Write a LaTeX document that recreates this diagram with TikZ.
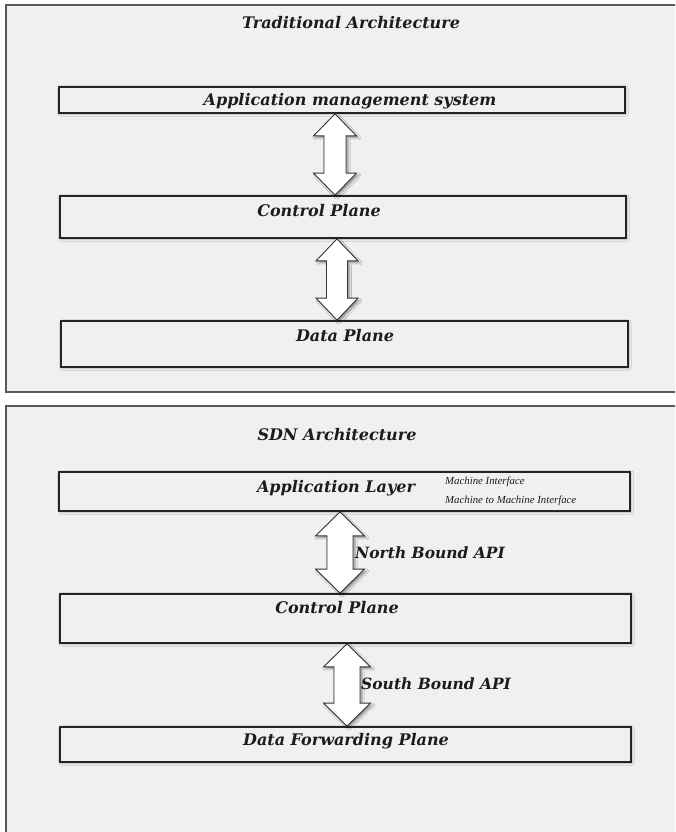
\documentclass[tikz,border=0pt]{standalone}
\usepackage{fontspec}
\setmainfont{DejaVu Serif}
\newfontfamily\noteface{Liberation Serif}
\usetikzlibrary{calc,shadows.blur}
\definecolor{panelgray}{HTML}{F0F0F0}
\definecolor{edgegray}{HTML}{242424}
\definecolor{inkgray}{HTML}{1C1C1C}
\tikzset{
  panel/.style={draw=black!65, line width=1.1pt, fill=panelgray},
  layer/.style={draw=edgegray, line width=1.8pt, fill=panelgray, inner sep=0pt,
    blur shadow={shadow xshift=1pt, shadow yshift=-1pt, shadow blur steps=4, shadow opacity=25}},
  heading/.style={font=\fontsize{16}{18}\selectfont\bfseries\itshape, text=inkgray, inner sep=0pt},
  apilbl/.style={font=\fontsize{15.5}{18}\selectfont\bfseries\itshape, text=inkgray, inner sep=0pt, anchor=west},
  note/.style={font=\noteface\fontsize{10.8}{12}\selectfont\itshape, text=inkgray, inner sep=0pt, anchor=west},
  blockarrow/.style={fill=white, draw=black!80, line width=0.9pt, line join=miter,
    blur shadow={shadow xshift=2pt, shadow yshift=-2pt, shadow blur steps=5, shadow opacity=40}},
}
% double-headed block arrow between the lower side of #2 and the upper side of #3 at x = #1
% #4 head half-width, #5 shaft half-width, #6 head length (all in pt)
\newcommand\layerlink[6]{%
  \path[blockarrow] let \p1=(#1,0 |- #2.south), \p2=(#1,0 |- #3.north) in
    (\x1,\y1) -- (\x1+#4pt,\y1-#6pt) -- (\x1+#5pt,\y1-#6pt) -- (\x1+#5pt,\y2+#6pt)
    -- (\x1+#4pt,\y2+#6pt) -- (\x1,\y2) -- (\x1-#4pt,\y2+#6pt) -- (\x1-#5pt,\y2+#6pt)
    -- (\x1-#5pt,\y1-#6pt) -- (\x1-#4pt,\y1-#6pt) -- cycle;}
\begin{document}
\begin{tikzpicture}[x=1pt, y=-1pt]
  \useasboundingbox (0,0) rectangle (675,832);
  \clip (0,0) rectangle (675,832);
  \fill[white] (0,0) rectangle (675,832);

  % two panels
  \draw[panel] (6,5) rectangle (690,392);
  \draw[panel] (6,406) rectangle (690,850);

  % traditional architecture
  \node[heading] (tradtitle) at (351,23) {Traditional Architecture};
  \node[layer, minimum width=566pt, minimum height=26pt] (app) at (342,100) {};
  \node[layer, minimum width=566pt, minimum height=42pt] (ctlA) at (343,217) {};
  \node[layer, minimum width=567pt, minimum height=46pt] (dataA) at (344.5,344) {};
  \node[heading] (appt) at (350,101) {Application management system};
  \node[heading] (ctlAt) at (319,211) {Control Plane};
  \node[heading] (dataAt) at (345,336) {Data Plane};
  \layerlink{335}{app}{ctlA}{21.5}{11}{22}
  \layerlink{337}{ctlA}{dataA}{21}{10.5}{22}

  % SDN architecture
  \node[heading] (sdntitle) at (337,435) {SDN Architecture};
  \node[layer, minimum width=571pt, minimum height=39pt] (appB) at (344.5,491.5) {};
  \node[layer, minimum width=571pt, minimum height=49pt] (ctlB) at (345.5,618.5) {};
  \node[layer, minimum width=571pt, minimum height=35pt] (dataB) at (345.5,744.5) {};
  \node[heading] (appBt) at (336,488) {Application Layer};
  \node[note] (mi) at (445,482) {Machine Interface};
  \node[note] (mmi) at (445,501) {Machine to Machine Interface};
  \node[heading] (ctlBt) at (337,608) {Control Plane};
  \node[heading] (dataBt) at (346,741) {Data Forwarding Plane};
  \layerlink{340}{appB}{ctlB}{24.5}{13}{24}
  \layerlink{347}{ctlB}{dataB}{23.5}{13}{23}
  \node[apilbl] (nb) at (355,553) {North Bound API};
  \node[apilbl] (sb) at (361,684) {South Bound API};
\end{tikzpicture}
\end{document}
